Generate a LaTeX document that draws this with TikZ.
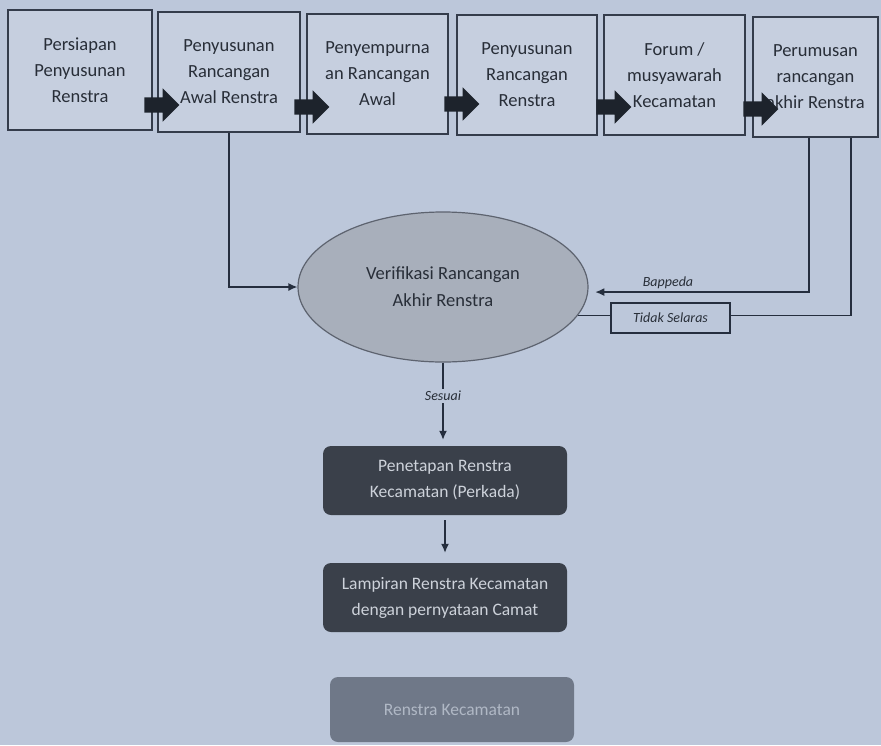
\documentclass[tikz,border=0pt]{standalone}
\usepackage{fontspec}
\setmainfont{Carlito}
\usetikzlibrary{shapes.geometric,shapes.arrows,arrows.meta,calc}
\definecolor{bg}{HTML}{BCC7DA}
\definecolor{boxfill}{HTML}{C6CFDF}
\definecolor{edge}{HTML}{343C4B}
\definecolor{linec}{HTML}{252E3E}
\definecolor{ellfill}{HTML}{A8AFBB}
\definecolor{darkbox}{HTML}{3A404A}
\definecolor{darktext}{HTML}{CDD2DA}
\definecolor{midbox}{HTML}{6F7888}
\definecolor{midtext}{HTML}{B0B8C5}
\definecolor{blockarrow}{HTML}{1D232C}
\definecolor{txt}{HTML}{282E38}
\begin{document}
\begin{tikzpicture}[x=1pt,y=-1pt,
  topbox/.style={draw=edge, line width=2pt, fill=boxfill, minimum height=120pt,
    inner sep=0pt, align=center, text=txt, font=\fontsize{18.5}{26}\selectfont},
  blockarr/.style={single arrow, fill=blockarrow, draw=none, inner xsep=0pt, inner ysep=7.5pt,
    single arrow head extend=9pt, minimum height=35pt, single arrow tip angle=90},
  conn/.style={draw=linec, line width=1.4pt},
  tip/.style={-{Latex[length=9pt,width=8pt]}},
  darkbox/.style={fill=darkbox, rounded corners=8pt, minimum width=244pt, minimum height=69pt,
    align=center, text=darktext, font=\fontsize{17.5}{26}\selectfont, inner sep=0pt},
  smalllabel/.style={font=\fontsize{14}{16}\selectfont\itshape, text=txt, inner sep=2pt}
]
\useasboundingbox (0,0) rectangle (881,745);
\fill[bg] (0,0) rectangle (881,745);

% top process boxes
\node[topbox,minimum width=144pt] (b1) at (80,70) {Persiapan\\Penyusunan\\Renstra};
\node[topbox,minimum width=142pt] (b2) at (229,72) {Penyusunan\\Rancangan\\Awal Renstra};
\node[topbox,minimum width=141pt] (b3) at (377.5,73.5) {Penyempurna\\an Rancangan\\Awal};
\node[topbox,minimum width=140pt] (b4) at (527,74.5) {Penyusunan\\Rancangan\\Renstra};
\node[topbox,minimum width=141pt] (b5) at (674.5,75) {Forum /\\musyawarah\\Kecamatan};
\node[topbox,minimum width=125pt] (b6) at (815.5,76.5) {Perumusan\\rancangan\\akhir Renstra};

% block arrows
\node[blockarr] (a1) at (158,105) {};
\node[blockarr] (a2) at (308,107) {};
\node[blockarr] (a3) at (458,104) {};
\node[blockarr] (a4) at (610,107) {};
\node[blockarr] (a5) at (757,109) {};

% verification ellipse
\node[ellipse, draw=edge!80, line width=1.2pt, fill=ellfill, minimum width=290pt, minimum height=150pt,
  inner sep=0pt, align=center, text=txt, font=\fontsize{18.5}{27}\selectfont] (ver) at (443,287)
  {Verifikasi Rancangan\\Akhir Renstra};

\coordinate (r1) at (809,0);
\coordinate (r2) at (851,0);

% connectors to ellipse
\draw[conn,tip] (b2.south) |- (ver.west);
\draw[conn,tip,shorten >=7pt] (b6.south -| r1) |- (ver.-2.4);
\draw[conn] (b6.south -| r2) |- (ver.-12.2);
\node[smalllabel] (bap) at (668,283) {Bappeda};
\node[draw=linec, line width=2.4pt, fill=bg, minimum width=119pt, minimum height=30pt,
  inner sep=0pt, font=\fontsize{14}{16}\selectfont\itshape, text=txt] (ts) at (670.5,318) {Tidak Selaras};

% lower chain
\node[darkbox] (pen) at (445,480.5) {Penetapan Renstra\\Kecamatan (Perkada)};
\node[darkbox] (lam) at (445,597.5) {Lampiran Renstra Kecamatan\\dengan pernyataan Camat};
\node[darkbox, fill=midbox, text=midtext, minimum height=65pt] (ren) at (452,709.5) {Renstra Kecamatan};

\draw[conn,tip,shorten >=6pt] (ver.south) -- node[pos=0.4, smalllabel, fill=bg] (ses) {Sesuai} (ver.south |- pen.north);
\draw[conn,tip,shorten <=5pt,shorten >=10pt] (pen.south) -- (pen.south |- lam.north);
\end{tikzpicture}
\end{document}
